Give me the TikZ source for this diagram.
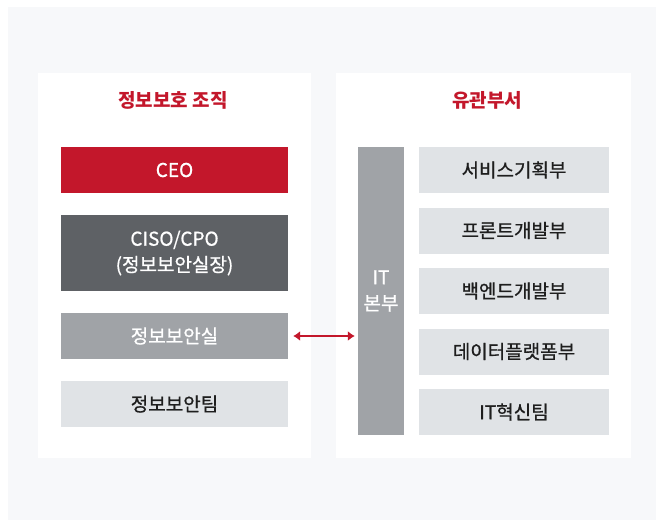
\documentclass[tikz,border=0pt]{standalone}
\usepackage{fontspec}
\setmainfont{Noto Sans CJK KR}
\newfontfamily\boxfont{Noto Sans CJK KR}[FakeBold=0.8]
\usetikzlibrary{arrows.meta}
\definecolor{redorg}{HTML}{C3172B}
\definecolor{darkorg}{HTML}{5E6165}
\definecolor{midorg}{HTML}{A0A3A7}
\definecolor{lightorg}{HTML}{E0E3E6}
\definecolor{bgorg}{HTML}{F7F8FA}
\definecolor{textorg}{HTML}{1E1E1E}
\tikzset{
    orgbox/.style={rectangle, inner sep=0pt, minimum height=46pt, align=center,
        font=\boxfont\fontsize{19}{26}\selectfont},
    leftbox/.style={orgbox, minimum width=227pt},
    rightbox/.style={orgbox, minimum width=190pt, fill=lightorg, text=textorg},
    paneltitle/.style={font=\fontsize{19}{22}\selectfont\bfseries, text=redorg}
}
\begin{document}
\begin{tikzpicture}[x=1pt, y=-1pt, >={Latex[length=7pt,width=10pt]}]
    \useasboundingbox (0,0) rectangle (656,520);

    % 1. Nền và hai khung trắng
    \begin{scope}
        \fill[bgorg] (8,7) rectangle (656,520);
        \fill[white] (38,73) rectangle (311,458);
        \fill[white] (336,73) rectangle (631,458);
    \end{scope}

    % 2. Tiêu đề
    \node[paneltitle] (lefttitle) at (173,100) {정보보호 조직};
    \node[paneltitle] (righttitle) at (487,100) {유관부서};

    % 3. Cột bên trái
    \node[leftbox, fill=redorg, text=white] (ceo) at (174.5,170) {CEO};
    \node[leftbox, fill=darkorg, text=white, minimum height=76pt] (ciso) at (174.5,253) {CISO/CPO\\(정보보안실장)};
    \node[leftbox, fill=midorg, text=white] (secoffice) at (174.5,336) {정보보안실};
    \node[leftbox, fill=lightorg, text=textorg] (secteam) at (174.5,404) {정보보안팀};

    % 4. Cột bên phải
    \node[orgbox, fill=midorg, text=white, minimum width=46pt, minimum height=288pt] (itdiv) at (381,291) {IT\\본부};
    \node[rightbox] (service) at (514,170) {서비스기획부};
    \node[rightbox] (front) at (514,230.5) {프론트개발부};
    \node[rightbox] (backend) at (514,291) {백엔드개발부};
    \node[rightbox] (data) at (514,351.5) {데이터플랫폼부};
    \node[rightbox] (itinno) at (514,412) {IT혁신팀};

    % 5. Mũi tên hai chiều
    \draw[redorg, line width=1.3pt, <->, shorten <=5pt, shorten >=3pt] (secoffice.east) -- (secoffice.east -| itdiv.west);
\end{tikzpicture}
\end{document}
